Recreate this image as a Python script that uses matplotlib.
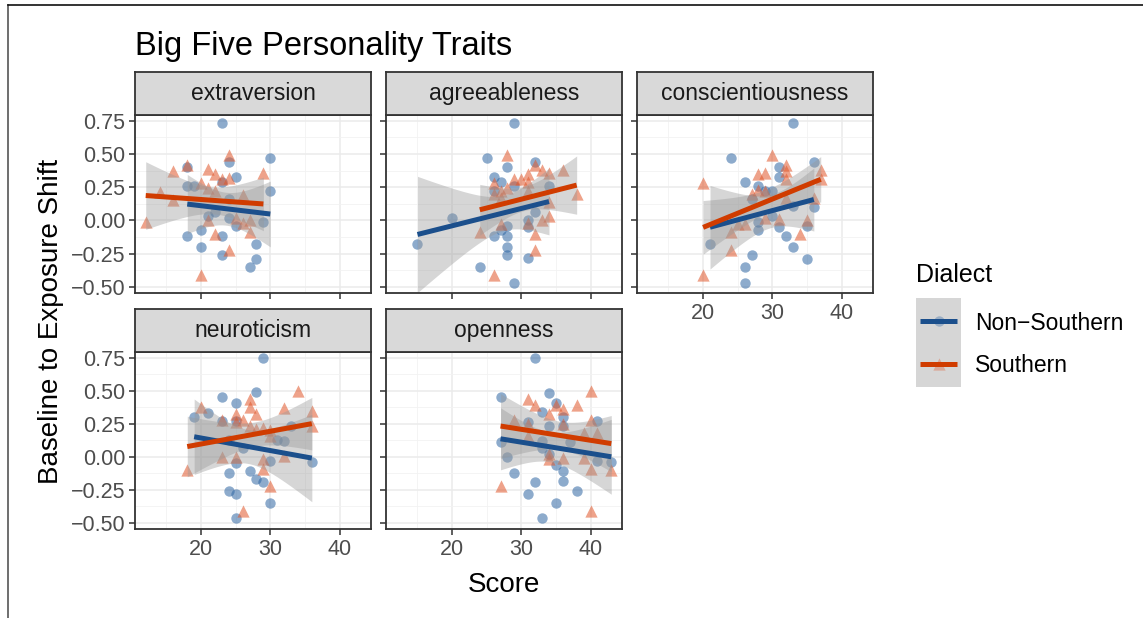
import numpy as np
import matplotlib
matplotlib.use("Agg")
import matplotlib.pyplot as plt
from matplotlib.lines import Line2D

plt.rcParams['font.family'] = ['Liberation Sans', 'DejaVu Sans']

# ---- data ----
traits = ["extraversion", "agreeableness", "conscientiousness", "neuroticism", "openness"]
dialects = ["Non\u2212Southern", "Southern"]

ext_ns_x = [23, 30, 24, 18, 25, 18, 19, 23, 30, 24, 21, 22, 24, 25, 29, 20, 18, 23, 20, 28, 23, 28, 27]
ext_ns_y = [0.73, 0.47, 0.44, 0.40, 0.33, 0.26, 0.26, 0.29, 0.22, 0.16, 0.03, 0.06, 0.02, -0.04, -0.01,
            -0.07, -0.12, -0.12, -0.20, -0.18, -0.26, -0.29, -0.35]
ext_s_x = [24, 18, 16, 21, 22, 29, 24, 23, 20, 21, 22, 14, 16, 26, 12, 21, 25, 26, 27, 27, 22, 24, 20]
ext_s_y = [0.49, 0.42, 0.37, 0.39, 0.35, 0.36, 0.32, 0.31, 0.28, 0.24, 0.22, 0.21, 0.15, 0.19, -0.01,
           0.00, 0.02, -0.02, 0.00, -0.09, -0.10, -0.22, -0.41]

agr_ns_x = [29, 25, 32, 28, 26, 27, 29, 34, 26, 20, 32, 31, 31, 28, 27, 26, 28, 15, 28, 28, 31, 24, 29]
agr_ns_y = [0.73, 0.47, 0.44, 0.40, 0.33, 0.29, 0.26, 0.26, 0.22, 0.02, 0.06, 0.00, -0.05, -0.04, -0.07,
            -0.12, -0.12, -0.18, -0.20, -0.26, -0.28, -0.35, -0.47]
agr_s_x = [28, 32, 33, 36, 34, 31, 29, 30, 31, 26, 28, 27, 26, 31, 38, 27, 34, 34, 33, 31, 27, 24, 32, 32, 26]
agr_s_y = [0.49, 0.42, 0.38, 0.38, 0.36, 0.35, 0.31, 0.31, 0.29, 0.28, 0.24, 0.22, 0.20, 0.22, 0.20,
           0.17, 0.14, 0.03, 0.00, -0.02, -0.03, -0.09, -0.10, -0.22, -0.41]

con_ns_x = [33, 24, 36, 31, 31, 26, 28, 30, 29, 27, 33, 36, 30, 28, 35, 31, 28, 32, 21, 33, 27, 35, 26, 26]
con_ns_y = [0.73, 0.47, 0.44, 0.40, 0.33, 0.29, 0.26, 0.22, 0.22, 0.16, 0.11, 0.10, 0.03, -0.01, -0.04,
            -0.05, -0.07, -0.12, -0.18, -0.20, -0.26, -0.29, -0.35, -0.47]
con_s_x = [30, 32, 32, 37, 28, 29, 37, 32, 20, 28, 29, 27, 32, 36, 31, 29, 35, 26, 25, 24, 34, 24, 20]
con_s_y = [0.49, 0.42, 0.37, 0.38, 0.35, 0.36, 0.31, 0.31, 0.28, 0.23, 0.22, 0.20, 0.17, 0.17, 0.01,
           0.02, 0.00, -0.03, -0.03, -0.09, -0.10, -0.22, -0.41]

neu_ns_x = [29, 28, 23, 25, 21, 19, 23, 25, 33, 31, 32, 24, 26, 30, 36, 25, 24, 27, 28, 29, 24, 25, 30, 25]
neu_ns_y = [0.745, 0.49, 0.45, 0.41, 0.33, 0.30, 0.27, 0.27, 0.23, 0.13, 0.12, 0.13, 0.065, -0.03, -0.04,
            -0.05, -0.12, -0.11, -0.17, -0.19, -0.26, -0.28, -0.35, -0.46]
neu_s_x = [34, 27, 27, 20, 32, 36, 28, 25, 23, 26, 25, 27, 28, 29, 30, 36, 30, 23, 25, 29, 32, 18, 29, 30, 26]
neu_s_y = [0.50, 0.44, 0.38, 0.38, 0.37, 0.35, 0.32, 0.32, 0.28, 0.28, 0.26, 0.23, 0.21, 0.22, 0.20,
           0.23, 0.16, 0.00, 0.00, -0.02, 0.01, -0.10, -0.09, -0.22, -0.41]

ope_ns_x = [32, 27, 34, 35, 33, 36, 41, 31, 34, 36, 27, 33, 37, 33, 28, 34, 41, 43, 35, 36, 29, 36, 32,
            38, 31, 35, 33]
ope_ns_y = [0.745, 0.45, 0.48, 0.41, 0.34, 0.30, 0.27, 0.26, 0.23, 0.23, 0.11, 0.12, 0.11, 0.065, 0.00,
            0.02, -0.03, -0.04, -0.06, -0.11, -0.12, -0.18, -0.19, -0.26, -0.28, -0.35, -0.46]
ope_s_x = [40, 31, 32, 35, 38, 36, 34, 29, 40, 31, 36, 39, 41, 31, 34, 36, 34, 39, 40, 43, 27, 40]
ope_s_y = [0.50, 0.44, 0.39, 0.39, 0.39, 0.36, 0.32, 0.28, 0.28, 0.25, 0.25, 0.18, 0.18, 0.16, 0.02,
           -0.01, -0.02, -0.01, -0.09, -0.10, -0.22, -0.41]

xticks = [20, 30, 40]
yticks = [-0.50, -0.25, 0.00, 0.25, 0.50, 0.75]

line_cols = ["#1b4f8c", "#d03c00"]
pt_cols = ["#2f66a3", "#e0562a"]
markers = ["o", "^"]
msize = [56, 78]

panel_data = {
    "extraversion": [(ext_ns_x, ext_ns_y), (ext_s_x, ext_s_y)],
    "agreeableness": [(agr_ns_x, agr_ns_y), (agr_s_x, agr_s_y)],
    "conscientiousness": [(con_ns_x, con_ns_y), (con_s_x, con_s_y)],
    "neuroticism": [(neu_ns_x, neu_ns_y), (neu_s_x, neu_s_y)],
    "openness": [(ope_ns_x, ope_ns_y), (ope_s_x, ope_s_y)],
}

W, H = 1143, 618
fig = plt.figure(figsize=(W / 100, H / 100), dpi=100)


def rect(x0, y0, x1, y1):
    # pixel box (top-left origin) -> figure fraction
    return [x0 / W, 1 - y1 / H, (x1 - x0) / W, (y1 - y0) / H]


def tq(df):
    z = 1.959964
    return z + (z**3 + z) / (4 * df) + (5 * z**5 + 16 * z**3 + 3 * z) / (96 * df**2)


def smooth(ax, x, y):
    x = np.asarray(x, float)
    y = np.asarray(y, float)
    n = len(x)
    b, a = np.polyfit(x, y, 1)
    xs = np.linspace(x.min(), x.max(), 80)
    fit = a + b * xs
    res = y - (a + b * x)
    s = np.sqrt(np.sum(res**2) / (n - 2))
    se = s * np.sqrt(1 / n + (xs - x.mean())**2 / np.sum((x - x.mean())**2))
    t = tq(n - 2)
    ax.fill_between(xs, fit - t * se, fit + t * se, color="#999999", alpha=0.4, lw=0, zorder=3)
    return xs, fit


cols_px = [(135, 371), (386, 622), (637, 873)]
rows_px = [(115, 293), (352, 529)]
strip_h = 43

for i, tr in enumerate(traits):
    r, c = divmod(i, 3)
    x0, x1 = cols_px[c]
    y0, y1 = rows_px[r]
    ax = fig.add_axes(rect(x0, y0, x1, y1))
    ax.set_xlim(10.45, 44.55)
    ax.set_ylim(-0.545, 0.792)
    ax.set_xticks(xticks)
    ax.set_yticks(yticks)
    ax.set_xticks([15, 25, 35], minor=True)
    ax.set_yticks([-0.375, -0.125, 0.125, 0.375, 0.625], minor=True)
    ax.grid(True, which="major", color="#ebebeb", lw=1.1, zorder=0)
    ax.grid(True, which="minor", color="#f2f2f2", lw=0.6, zorder=0)
    ax.set_axisbelow(True)
    for sp in ax.spines.values():
        sp.set_color("#333333")
        sp.set_linewidth(1.3)
        sp.set_zorder(6)
    ax.tick_params(which="major", length=4, width=1.1, color="#333333",
                   labelsize=15.5, labelcolor="#4d4d4d", pad=3)
    ax.tick_params(which="minor", length=0)
    ax.yaxis.set_major_formatter(plt.FuncFormatter(lambda v, p: f"{v:.2f}".replace("-", "\u2212")))
    if c != 0:
        ax.tick_params(axis="y", labelleft=False)
    bottom = (r == 1) or (c == 2)
    if not bottom:
        ax.tick_params(axis="x", labelbottom=False)

    lines = []
    for k, (xv, yv) in enumerate(panel_data[tr]):
        ax.scatter(xv, yv, s=msize[k], marker=markers[k], color=pt_cols[k],
                   alpha=0.55, lw=0, zorder=2)
    for k, (xv, yv) in enumerate(panel_data[tr]):
        lines.append(smooth(ax, xv, yv))
    for k, (xs, fit) in enumerate(lines):
        ax.plot(xs, fit, color=line_cols[k], lw=3.6, solid_capstyle="butt", zorder=4)

    sax = fig.add_axes(rect(x0, y0 - strip_h, x1, y0))
    sax.set_facecolor("#d9d9d9")
    sax.set_xticks([])
    sax.set_yticks([])
    for sp in sax.spines.values():
        sp.set_color("#333333")
        sp.set_linewidth(1.3)
    sax.text(0.5, 0.5, tr, ha="center", va="center", fontsize=16.5, color="#1a1a1a",
             transform=sax.transAxes)

fig.text(135 / W, 1 - 55 / H, "Big Five Personality Traits", fontsize=23.5, ha="left", va="baseline")
fig.text(504 / W, 1 - 592 / H, "Score", fontsize=20, ha="center", va="baseline")
fig.text(51 / W, 1 - 321 / H, "Baseline to Exposure Shift", fontsize=20, ha="center",
         va="center", rotation=90)

# legend
fig.text(916 / W, 1 - 282 / H, "Dialect", fontsize=18, ha="left", va="baseline")
lax = fig.add_axes(rect(916, 298, 961, 387))
lax.set_xlim(0, 1)
lax.set_ylim(1, 0)
lax.axis("off")
lax.add_patch(plt.Rectangle((0, 0), 1, 1, color="#d6d6d6", transform=lax.transAxes, zorder=0))
key_y = [0.255, 0.74]
key_base = [330, 372.5]
for k in range(2):
    lax.scatter([0.5], [key_y[k]], s=msize[k], marker=markers[k], color=pt_cols[k], alpha=0.35, lw=0, zorder=2)
    lax.add_line(Line2D([0.09, 0.91], [key_y[k], key_y[k]], color=line_cols[k], lw=3.6,
                        solid_capstyle="butt", zorder=3))
    fig.text(975 / W, 1 - key_base[k] / H, dialects[k], fontsize=16.5, ha="left", va="baseline")

# outer frame lines
fig.add_artist(Line2D([8 / W, 8 / W], [0, 1 - 5 / H], color="#555555", lw=1.2))
fig.add_artist(Line2D([8 / W, 1], [1 - 5 / H, 1 - 5 / H], color="#111111", lw=1.2))

fig.savefig("out.png", dpi=100)
